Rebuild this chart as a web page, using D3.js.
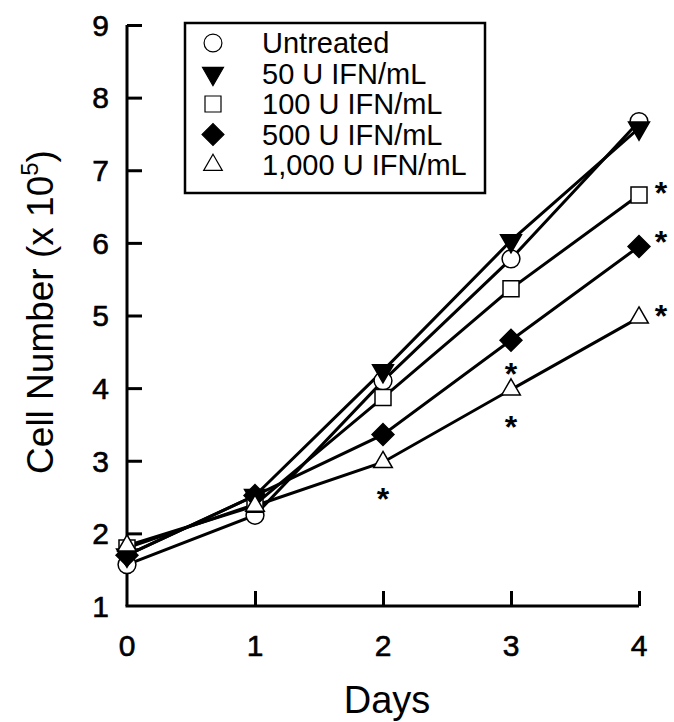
<!DOCTYPE html>
<html>
<head>
<meta charset="utf-8">
<script src="https://cdn.jsdelivr.net/npm/d3@7"></script>
<style>
  body { margin: 0; background: #fff; }
  text { font-family: "Liberation Sans", Arial, Helvetica, sans-serif; fill: #000; }
</style>
</head>
<body>
<script>
var days = [0, 1, 2, 3, 4];
var yTicks = [1, 2, 3, 4, 5, 6, 7, 8, 9];

var seriesNames = ["Untreated", "50 U IFN/mL", "100 U IFN/mL", "500 U IFN/mL", "1,000 U IFN/mL"];
var untreated = [1.57, 2.25, 4.1, 5.78, 7.67];
var ifn50 = [1.7, 2.52, 4.24, 6.03, 7.58];
var ifn100 = [1.8, 2.4, 3.87, 5.37, 6.66];
var ifn500 = [1.7, 2.52, 3.36, 4.66, 5.95];
var ifn1000 = [1.83, 2.38, 2.98, 3.98, 4.97];

// significance marks: [day, value, side]
var stars = [[2, 2.55, "below"], [3, 4.28, "below"], [3, 3.55, "below"],
             [4, 6.77, "right"], [4, 6.1, "right"], [4, 5.07, "right"]];

var w = 674, h = 722;
var mLeft = 127, mTop = 25, xEnd = 639, yEnd = 606;

function display() {
    var svg = d3.select("body").append("svg")
        .attr("width", w)
        .attr("height", h);

    var x = d3.scaleLinear().domain([0, 4]).range([mLeft, xEnd]);
    var y = d3.scaleLinear().domain([1, 9]).range([yEnd, mTop]);

    var series = [
        {name: seriesNames[0], values: untreated, shape: "circle", fill: "#fff"},
        {name: seriesNames[1], values: ifn50, shape: "down", fill: "#000"},
        {name: seriesNames[2], values: ifn100, shape: "square", fill: "#fff"},
        {name: seriesNames[3], values: ifn500, shape: "diamond", fill: "#000"},
        {name: seriesNames[4], values: ifn1000, shape: "up", fill: "#fff"}
    ];

    var symbolFor = function(shape) {
        if (shape === "circle") return d3.symbol(d3.symbolCircle, 250)();
        if (shape === "square") return d3.symbol(d3.symbolSquare, 256)();
        if (shape === "diamond") return d3.symbol(d3.symbolSquare, 240)();
        if (shape === "down") return d3.symbol(d3.symbolTriangle, 190)();
        return d3.symbol(d3.symbolTriangle, 150)();
    };
    var rotFor = function(shape) {
        if (shape === "down") return " rotate(180)";
        if (shape === "diamond") return " rotate(45)";
        return "";
    };

    // axes
    var yAxis = d3.axisLeft(y).tickValues(yTicks.slice(1)).tickSizeInner(-15).tickSizeOuter(0).tickFormat("");
    svg.append("g")
        .attr("transform", "translate(" + mLeft + ",0)")
        .call(yAxis)
        .call(function(g) {
            g.select(".domain").attr("stroke-width", 3).attr("d", "M0," + mTop + "V" + yEnd);
            g.selectAll(".tick line").attr("stroke-width", 3);
        });

    var xAxis = d3.axisBottom(x).tickValues(days.slice(1)).tickSizeInner(-15).tickSizeOuter(0).tickFormat("");
    svg.append("g")
        .attr("transform", "translate(0," + yEnd + ")")
        .call(xAxis)
        .call(function(g) {
            g.select(".domain").attr("stroke-width", 3).attr("d", "M" + (mLeft - 1.5) + ",0H" + xEnd);
            g.selectAll(".tick line").attr("stroke-width", 3);
        });

    // tick labels
    svg.append("g").selectAll(".yLab")
        .data(yTicks)
        .enter().append("text")
        .text(function(d) { return d; })
        .attr("x", 109)
        .attr("y", function(d) { return y(d); })
        .attr("dy", "0.36em")
        .attr("text-anchor", "end")
        .attr("font-size", 30)
        .attr("stroke", "#000").attr("stroke-width", 0.6);

    svg.append("g").selectAll(".xLab")
        .data(days)
        .enter().append("text")
        .text(function(d) { return d; })
        .attr("x", function(d) { return x(d); })
        .attr("y", 656)
        .attr("text-anchor", "middle")
        .attr("font-size", 30)
        .attr("stroke", "#000").attr("stroke-width", 0.6);

    // axis titles
    svg.append("text")
        .text("Days")
        .attr("x", 387)
        .attr("y", 713)
        .attr("text-anchor", "middle")
        .attr("font-size", 38);

    var yt = svg.append("text")
        .attr("transform", "translate(53,312) rotate(-90)")
        .attr("text-anchor", "middle")
        .attr("font-size", 37);
    yt.append("tspan").text("Cell Number (x 10");
    yt.append("tspan").text("5").attr("font-size", 24).attr("dy", -15);
    yt.append("tspan").text(")").attr("dy", 15);

    // lines
    var line = d3.line()
        .x(function(d, i) { return x(days[i]); })
        .y(function(d) { return y(d); });

    svg.append("g").selectAll(".series")
        .data(series)
        .enter().append("path")
        .attr("d", function(s) { return line(s.values); })
        .attr("fill", "none")
        .attr("stroke", "#000")
        .attr("stroke-width", 3);

    // markers
    series.forEach(function(s) {
        svg.append("g").selectAll("path")
            .data(s.values)
            .enter().append("path")
            .attr("d", symbolFor(s.shape))
            .attr("transform", function(d, i) {
                return "translate(" + x(days[i]) + "," + y(d) + ")" + rotFor(s.shape);
            })
            .attr("fill", s.fill)
            .attr("stroke", "#000")
            .attr("stroke-width", 1.5);
    });

    // asterisks
    svg.append("g").selectAll(".star")
        .data(stars)
        .enter().append("text")
        .text("*")
        .attr("x", function(d) { return d[2] === "right" ? x(d[0]) + 22 : x(d[0]); })
        .attr("y", function(d) { return y(d[1]) + 17; })
        .attr("text-anchor", "middle")
        .attr("font-size", 32)
        .attr("font-weight", "bold");

    // legend
    var legend = svg.append("g").attr("class", "legend");
    legend.append("rect")
        .attr("x", 185).attr("y", 23)
        .attr("width", 300).attr("height", 170)
        .attr("fill", "#fff")
        .attr("stroke", "#000")
        .attr("stroke-width", 2.5);

    var rows = legend.selectAll(".row")
        .data(series)
        .enter().append("g")
        .attr("transform", function(d, i) { return "translate(0," + (43 + i * 30.5) + ")"; });

    rows.append("path")
        .attr("d", function(s) { return symbolFor(s.shape); })
        .attr("transform", function(s) { return "translate(213,0)" + rotFor(s.shape); })
        .attr("fill", function(s) { return s.fill; })
        .attr("stroke", "#000")
        .attr("stroke-width", 1.2);

    rows.append("text")
        .text(function(s) { return s.name; })
        .attr("x", 262)
        .attr("y", 0)
        .attr("dy", "0.36em")
        .attr("font-size", 29);
}

document.addEventListener("DOMContentLoaded", function() {
    display();
});
</script>
</body>
</html>
